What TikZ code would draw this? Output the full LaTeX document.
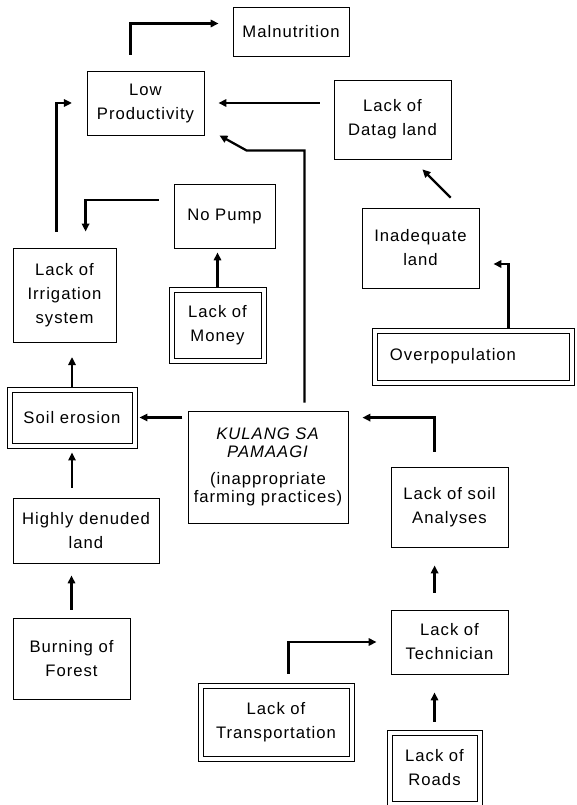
\documentclass[tikz,border=0pt]{standalone}
\usepackage{fontspec}
\setmainfont{Liberation Sans}[LetterSpace=6]
\usetikzlibrary{arrows.meta}
\usetikzlibrary{calc}

\tikzset{
  box/.style={draw,line width=0.6pt,align=center,inner sep=2pt,font=\fontsize{12.5}{18}\selectfont},
  dbox/.style={box,line width=0.7pt},
  arr/.style={line width=1.7pt,-{Triangle[length=6pt,width=5.5pt]}},
}

\begin{document}
\begin{tikzpicture}[x=0.75pt,y=-0.75pt]
\useasboundingbox (0,0) rectangle (577,805);
% boxes
\node[box,minimum width=87pt,minimum height=36.75pt] (mal) at (291,31.5) {Malnutrition};
\node[box,minimum width=87.75pt,minimum height=48pt] (lowprod) at (145.5,103) {Low\\Productivity};
\node[box,minimum width=87.75pt,minimum height=59.25pt] (datag) at (392.5,119.5) {Lack of\\Datag land};
\node[box,minimum width=75.75pt,minimum height=48pt] (nopump) at (224.5,216) {No Pump};
\node[box,minimum width=77.25pt,minimum height=70.5pt] (irrig) at (64.5,295) {Lack of\\Irrigation\\system};
\node[dbox,minimum width=72.75pt,minimum height=57pt] (money) at (217.5,325) {Lack of\\Money};
\node[box,minimum width=87.75pt,minimum height=60pt] (inadeq) at (420.5,248) {Inadequate\\land};
\node[dbox,minimum width=151.5pt,minimum height=42.75pt] (overpop) at (473,356.5) {Overpopulation\hspace*{30pt}};
\node[dbox,minimum width=97.5pt,minimum height=45.75pt] (soil) at (72,417.5) {Soil erosion};
\node[box,minimum width=120pt,minimum height=84pt,font=\fontsize{12.5}{13.5}\selectfont] (kulang) at (268,467)
  {\textit{KULANG SA}\\\textit{PAMAAGI}\\[7pt](inappropriate\\farming practices)};
\node[box,minimum width=87.75pt,minimum height=60pt] (analyses) at (449.5,507) {Lack of soil\\Analyses};
\node[box,minimum width=109.5pt,minimum height=48.75pt] (denuded) at (86,530.5) {Highly denuded\\land};
\node[box,minimum width=87.75pt,minimum height=60.75pt] (forest) at (71.5,658.5) {Burning of\\Forest};
\node[box,minimum width=87.75pt,minimum height=48pt] (techn) at (449.5,642) {Lack of\\Technician};
\node[dbox,minimum width=117pt,minimum height=58.5pt] (transp) at (276,722) {Lack of\\Transportation};
\node[dbox,minimum width=71.25pt,minimum height=57pt] (roads) at (434.5,768) {Lack of\\Roads};
% inner frame of the double boxes
\foreach \n in {money,overpop,soil,transp,roads}
  \draw[line width=0.7pt] ($(\n.north west)+(5.5,5.5)$) rectangle ($(\n.south east)+(-5.5,-5.5)$);
% arrows
\draw[arr,shorten <=12pt,shorten >=10.5pt] ($(lowprod.north west)+(44,0)$) |- ($(mal.west)+(0,-8)$);
\draw[arr,shorten <=10.5pt,shorten >=10.5pt] (datag.west |- lowprod.east) -- (lowprod.east);
\draw[arr,shorten <=6pt] ($(kulang.north west)+(117,0)$) |- ($(lowprod.south east)+(42,15)$) -- ($(lowprod.south east)+(15,0)$);
\draw[arr,shorten <=12pt,shorten >=11pt] ($(irrig.north west)+(44,0)$) |- (lowprod.west);
\draw[arr,shorten <=11pt,shorten >=12pt] ($(nopump.west)+(0,-16)$) -| ($(irrig.north west)+(73,0)$);
\draw[arr,shorten >=3pt] (money.north) -- (money.north |- nopump.south);
\draw[arr,shorten <=10.5pt,shorten >=10.5pt] ($(inadeq.north)+(40,0)$) -- ($(datag.south)+(20,0)$);
\draw[arr,shorten >=10.5pt] ($(overpop.north west)+(137,0)$) |- ($(inadeq.east)+(0,16)$);
\draw[arr,shorten >=11pt] (soil.north) -- (soil.north |- irrig.south);
\draw[arr,shorten <=4pt,shorten >=1.5pt] (kulang.west |- soil.east) -- (soil.east);
\draw[arr,shorten <=11pt,shorten >=10.5pt] ($(analyses.north west)+(44,0)$) |- ($(kulang.north east)+(0,7)$);
\draw[arr,shorten <=7.5pt,shorten >=3pt] (soil.south |- denuded.north) -- (soil.south);
\draw[arr,shorten <=6pt,shorten >=9pt] (forest.north) -- (forest.north |- denuded.south);
\draw[arr,shorten <=12.75pt,shorten >=13.5pt] ($(techn.north west)+(44,0)$) -- ($(analyses.south west)+(44,0)$);
\draw[arr,shorten <=6.75pt,shorten >=10.5pt] ($(transp.north west)+(91,0)$) |- (techn.west);
\draw[arr,shorten <=6pt,shorten >=13.5pt] (roads.north) -- (roads.north |- techn.south);
\end{tikzpicture}
\end{document}
